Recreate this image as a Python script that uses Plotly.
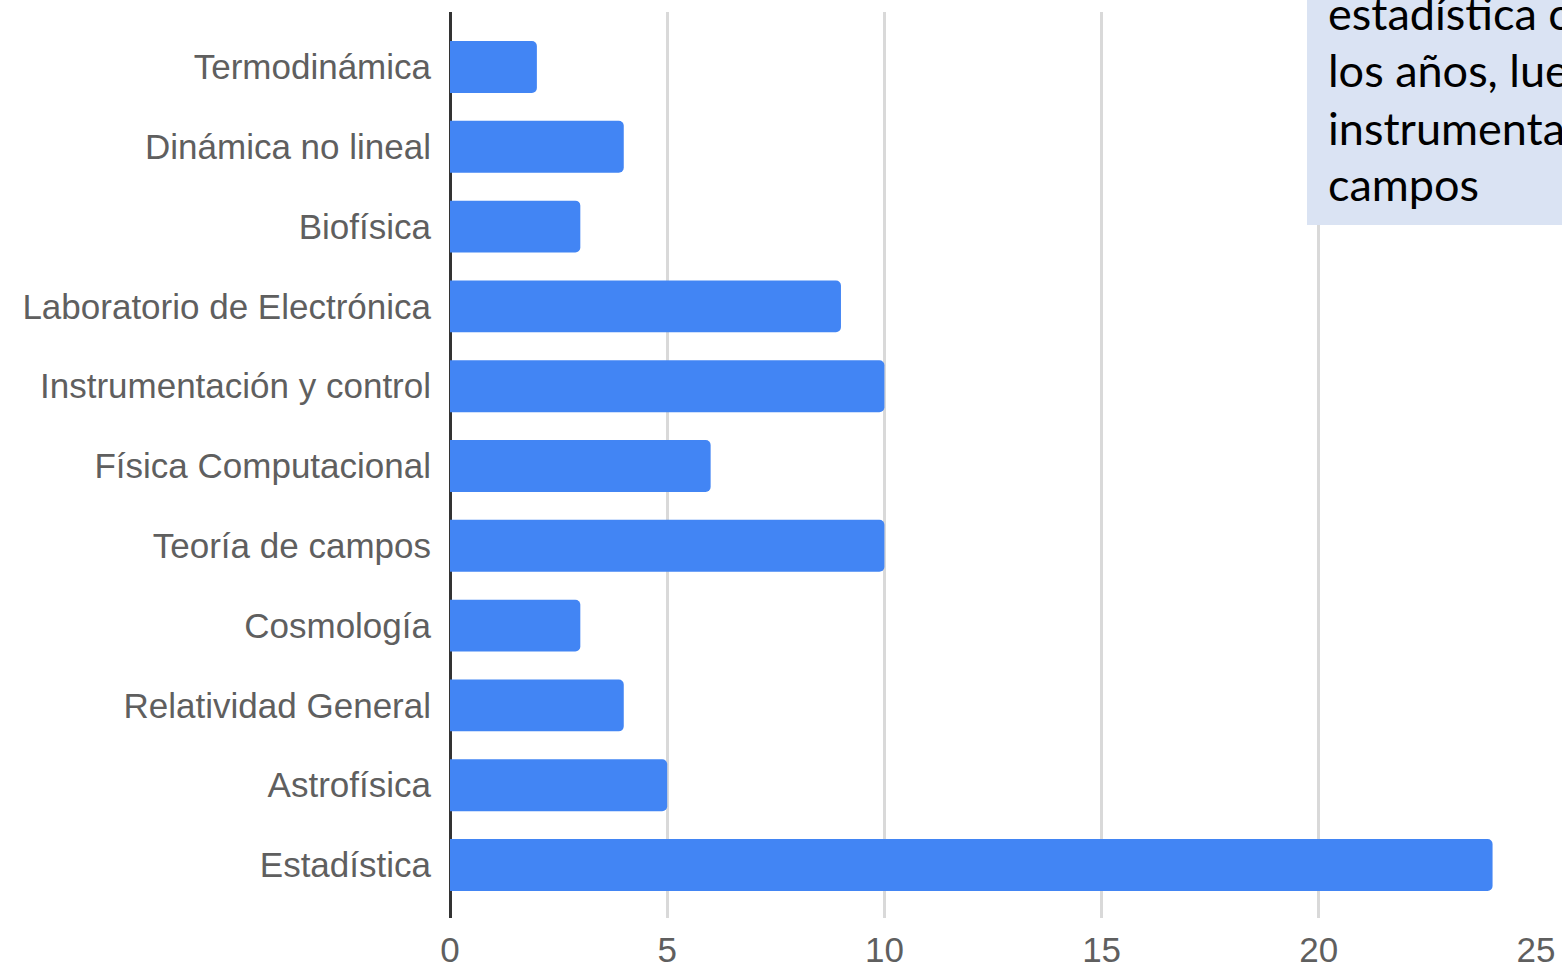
import plotly.graph_objects as go

# Materias (de arriba hacia abajo) y número de respuestas
materias = [
    "Termodinámica",
    "Dinámica no lineal",
    "Biofísica",
    "Laboratorio de Electrónica",
    "Instrumentación y control",
    "Física Computacional",
    "Teoría de campos",
    "Cosmología",
    "Relatividad General",
    "Astrofísica",
    "Estadística",
]
respuestas = [2, 4, 3, 9, 10, 6, 10, 3, 4, 5, 24]

x_ticks = [0, 5, 10, 15, 20, 25]

nota = [
    "estadística con",
    "los años, luego",
    "instrumentación y teoría de",
    "campos",
]

W, H = 1562, 973
L, R, T, B = 450, 26, 12, 55

fig = go.Figure(
    go.Bar(
        x=respuestas,
        y=materias,
        orientation="h",
        marker=dict(color="#4285f4", line=dict(width=0)),
        width=0.65,
        hoverinfo="x+y",
    )
)

tick_font = dict(family="Liberation Sans, Arial, sans-serif", size=35, color="#5f5f5f")

fig.update_layout(
    width=W,
    height=H,
    margin=dict(l=L, r=R, t=T, b=B, pad=0, autoexpand=False),
    plot_bgcolor="white",
    paper_bgcolor="white",
    showlegend=False,
    barcornerradius=5,
    xaxis=dict(
        range=[0, 25],
        tickvals=x_ticks,
        ticktext=[str(v) for v in x_ticks],
        showgrid=True,
        gridcolor="#d9d9d9",
        gridwidth=3,
        zeroline=True,
        zerolinecolor="#333333",
        zerolinewidth=3,
        showline=False,
        ticks="",
        tickfont=tick_font,
        ticklabelstandoff=8,
        automargin=False,
    ),
    yaxis=dict(
        type="category",
        categoryorder="array",
        categoryarray=materias,
        range=[10.664, -0.689],
        showgrid=False,
        zeroline=False,
        showline=False,
        ticks="",
        tickfont=tick_font,
        ticklabelstandoff=18,
        automargin=False,
    ),
)

# Recuadro de comentario en la esquina superior derecha
x_box = (1307 - L) / (W - L - R)
y_box = (H - B - 225) / (H - T - B)
fig.add_shape(
    type="rect",
    xref="paper",
    yref="paper",
    x0=x_box,
    x1=1.2,
    y0=y_box,
    y1=1.2,
    fillcolor="#dae3f3",
    line=dict(width=0),
    layer="above",
)

baselines = [30, 87, 145, 201]
x_txt = (1326 - L) / (W - L - R)
for linea, base in zip(nota, baselines):
    fig.add_annotation(
        xref="paper",
        yref="paper",
        x=x_txt,
        y=(H - B - base) / (H - T - B),
        xanchor="left",
        yanchor="bottom",
        yshift=-12,
        text=linea,
        showarrow=False,
        align="left",
        font=dict(family="Lato, Open Sans, sans-serif", size=45, color="#000000"),
    )

fig.write_html("out.html")
